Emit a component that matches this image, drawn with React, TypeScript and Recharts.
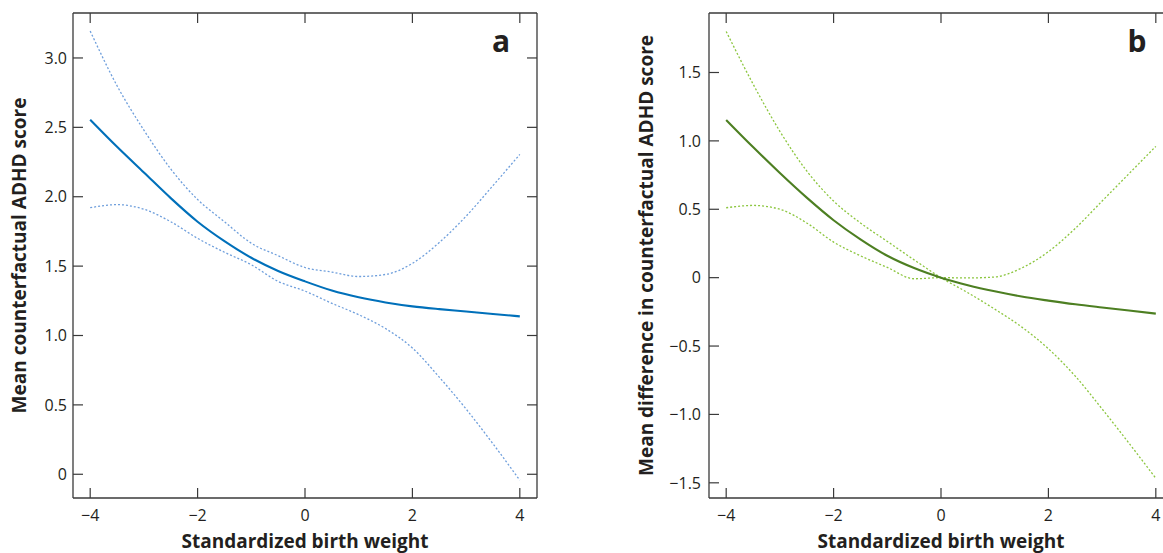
import React from 'react';
import { LineChart, Line, XAxis, YAxis } from 'recharts';

// standardized birth weight grid
const birthWeight = [-4, -3.5, -3, -2.5, -2, -1.5, -1, -0.5, 0, 0.5, 1, 1.5, 2, 2.5, 3, 3.5, 4];

// panel a: mean counterfactual ADHD score with CI
const meanScore = [2.555, 2.36, 2.175, 1.99, 1.82, 1.68, 1.56, 1.465, 1.39, 1.324, 1.275, 1.238, 1.21, 1.19, 1.173, 1.155, 1.138];
const upperScore = [3.194, 2.8, 2.48, 2.2, 1.98, 1.82, 1.665, 1.575, 1.49, 1.457, 1.425, 1.44, 1.52, 1.67, 1.86, 2.08, 2.305];
const lowerScore = [1.921, 1.943, 1.91, 1.82, 1.7, 1.6, 1.51, 1.39, 1.32, 1.232, 1.15, 1.05, 0.91, 0.7, 0.47, 0.22, -0.043];

// panel b: mean difference vs. birth weight 0, with CI
const meanDiff = [1.153, 0.955, 0.765, 0.585, 0.42, 0.28, 0.16, 0.07, 0, -0.055, -0.1, -0.138, -0.168, -0.195, -0.218, -0.24, -0.263];
const diffBandHigh = [1.8, 1.416, 1.07, 0.78, 0.56, 0.4, 0.265, 0.13, 0, -0.11, -0.23, -0.36, -0.52, -0.72, -0.96, -1.21, -1.467];
const diffBandLow = [0.511, 0.528, 0.5, 0.4, 0.26, 0.16, 0.075, -0.008, 0, -0.002, 0.005, 0.07, 0.19, 0.36, 0.56, 0.76, 0.96];

const xTicks = [-4, -2, 0, 2, 4];
const scoreTicks = [0, 0.5, 1, 1.5, 2, 2.5, 3];
const diffTicks = [-1.5, -1, -0.5, 0, 0.5, 1, 1.5];

const dataA = birthWeight.map((x, i) => ({ x, mean: meanScore[i], upper: upperScore[i], lower: lowerScore[i] }));
const dataB = birthWeight.map((x, i) => ({ x, mean: meanDiff[i], upper: diffBandHigh[i], lower: diffBandLow[i] }));

const minus = (s: string) => s.replace('-', '\u2212');
const fmtX = (v: number) => minus(String(v));
const fmtY = (v: number) => (v === 0 ? '0' : minus(v.toFixed(1)));

const FONT = '"Open Sans", "Noto Sans", sans-serif';
const INK = '#231f20';
const AXIS = '#3a3a3a';
const X_DOMAIN = [-4.32, 4.32];
const TICK = 10;

// inward tick marks, drawn by hand
const BottomTick = (p: any) => (
    <g>
        <line x1={p.x} x2={p.x} y1={p.y} y2={p.y - TICK} stroke={AXIS} strokeWidth={1.2} />
        <text x={p.x} y={p.y + 22.5} textAnchor="middle" fill={INK} fontSize={16} fontFamily={FONT}>{fmtX(p.payload.value)}</text>
    </g>
);
const TopTick = (p: any) => <line x1={p.x} x2={p.x} y1={p.y} y2={p.y + TICK} stroke={AXIS} strokeWidth={1.2} />;
const RightTick = (p: any) => <line x1={p.x} x2={p.x - TICK} y1={p.y} y2={p.y} stroke={AXIS} strokeWidth={1.2} />;
const makeLeftTick = (gap: number) => (p: any) => (
    <g>
        <line x1={p.x} x2={p.x + TICK} y1={p.y} y2={p.y} stroke={AXIS} strokeWidth={1.2} />
        <text x={p.x - gap} y={p.y + 5.7} textAnchor="end" fill={INK} fontSize={16} fontFamily={FONT}>{fmtY(p.payload.value)}</text>
    </g>
);

interface PanelProps {
    left: number;
    leftWidth: number;
    data: any[];
    yDomain: number[];
    yTicks: number[];
    yLabel: string;
    yLabelOffset: number;
    labelGap: number;
    mainColor: string;
    bandColor: string;
}

function Panel({ left, leftWidth, data, yDomain, yTicks, yLabel, yLabelOffset, labelGap, mainColor, bandColor }: PanelProps) {
    const titleStyle = { fill: INK, fontSize: 19, fontWeight: 700, fontFamily: FONT, textAnchor: 'middle' as const };
    const axisLine = { stroke: AXIS, strokeWidth: 1.3 };
    return (
        <div style={{ position: 'absolute', left, top: 0 }}>
            <LineChart width={leftWidth + 487} height={553} data={data} margin={{ top: 0, right: 0, bottom: 0, left: 0 }}>
                <XAxis
                    xAxisId="bottom"
                    dataKey="x"
                    type="number"
                    domain={X_DOMAIN}
                    allowDataOverflow
                    ticks={xTicks}
                    height={55}
                    tickSize={0}
                    tickMargin={0}
                    tickLine={false}
                    axisLine={axisLine}
                    tick={BottomTick}
                    label={{ value: 'Standardized birth weight', position: 'insideBottom', offset: 5, style: titleStyle }}
                />
                <XAxis
                    xAxisId="top"
                    dataKey="x"
                    type="number"
                    orientation="top"
                    domain={X_DOMAIN}
                    allowDataOverflow
                    ticks={xTicks}
                    height={13}
                    tickSize={0}
                    tickMargin={0}
                    tickLine={false}
                    axisLine={axisLine}
                    tick={TopTick}
                />
                <YAxis
                    yAxisId="left"
                    type="number"
                    domain={yDomain}
                    allowDataOverflow
                    ticks={yTicks}
                    width={leftWidth}
                    tickSize={0}
                    tickMargin={0}
                    tickLine={false}
                    axisLine={axisLine}
                    tick={makeLeftTick(labelGap)}
                    label={{ value: yLabel, angle: -90, position: 'insideLeft', offset: yLabelOffset, style: titleStyle }}
                />
                <YAxis
                    yAxisId="right"
                    type="number"
                    orientation="right"
                    domain={yDomain}
                    allowDataOverflow
                    ticks={yTicks}
                    width={23}
                    tickSize={0}
                    tickMargin={0}
                    tickLine={false}
                    axisLine={axisLine}
                    tick={RightTick}
                />
                <Line xAxisId="bottom" yAxisId="left" dataKey="upper" type="monotone" stroke={bandColor} strokeWidth={1.3} strokeDasharray="2 2" dot={false} isAnimationActive={false} />
                <Line xAxisId="bottom" yAxisId="left" dataKey="lower" type="monotone" stroke={bandColor} strokeWidth={1.3} strokeDasharray="2 2" dot={false} isAnimationActive={false} />
                <Line xAxisId="bottom" yAxisId="left" dataKey="mean" type="monotone" stroke={mainColor} strokeWidth={2.1} dot={false} isAnimationActive={false} />
            </LineChart>
        </div>
    );
}

export default function App() {
    return (
        <div style={{ position: 'absolute', left: 0, top: 0, width: 1163, height: 553, overflow: 'hidden', background: '#fff' }}>
            <Panel
                left={0}
                leftWidth={73}
                data={dataA}
                yDomain={[-0.171, 3.324]}
                yTicks={scoreTicks}
                yLabel="Mean counterfactual ADHD score"
                yLabelOffset={19}
                labelGap={6}
                mainColor="#0070ba"
                bandColor="#6f9fdc"
            />
            <Panel
                left={620}
                leftWidth={89}
                data={dataB}
                yDomain={[-1.611, 1.935]}
                yTicks={diffTicks}
                yLabel="Mean difference in counterfactual ADHD score"
                yLabelOffset={26}
                labelGap={8}
                mainColor="#4d7f22"
                bandColor="#8cc63f"
            />
            <svg width={1163} height={553} style={{ position: 'absolute', left: 0, top: 0, pointerEvents: 'none' }}>
                <text x={501} y={52} textAnchor="middle" fontFamily={FONT} fontWeight={700} fontSize={30} fill={INK}>a</text>
                <text x={1137} y={52} textAnchor="middle" fontFamily={FONT} fontWeight={700} fontSize={30} fill={INK}>b</text>
            </svg>
        </div>
    );
}
